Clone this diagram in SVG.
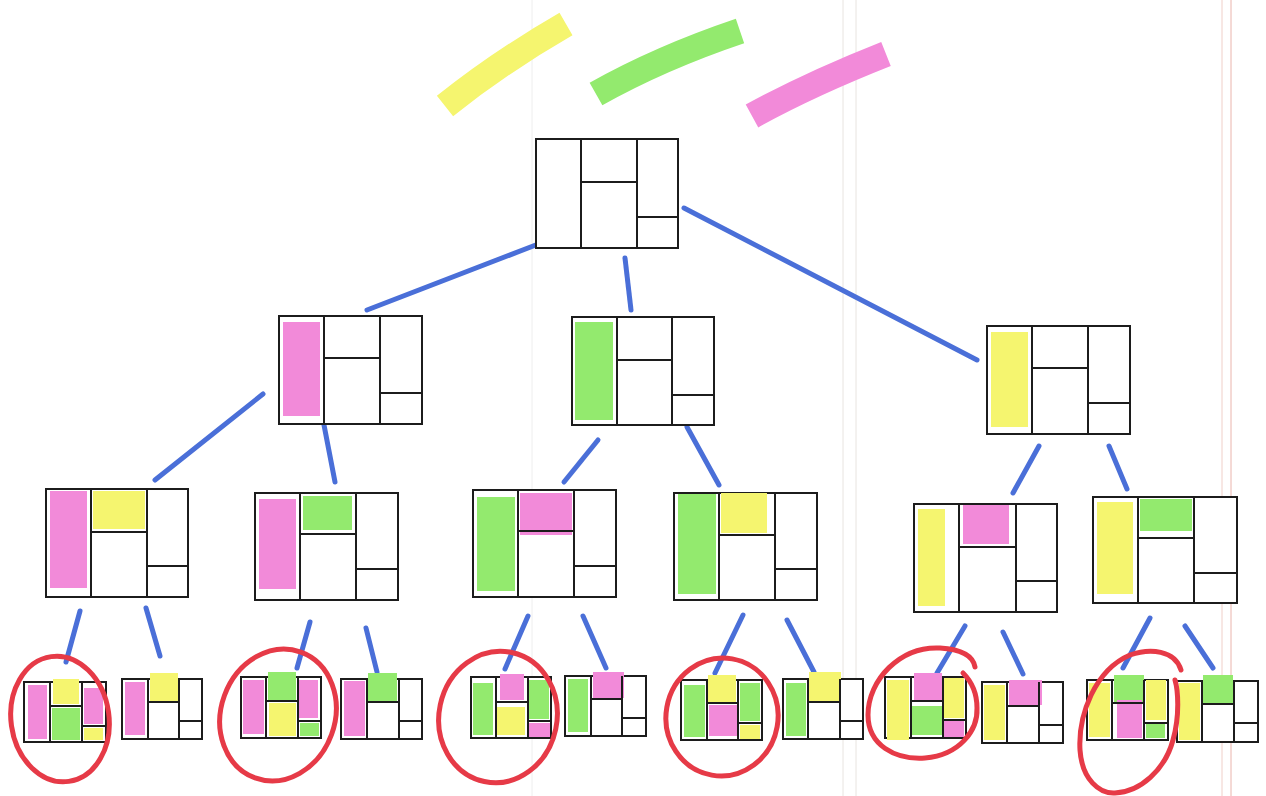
<svg xmlns="http://www.w3.org/2000/svg" width="1266" height="796" viewBox="0 0 1266 796">
<style>
.bx{fill:#fff;stroke:#1c1c1c;stroke-width:2}
.ln{fill:none;stroke:#1c1c1c;stroke-width:2}
.p{fill:#f28ad9}
.g{fill:#93ea6e}
.y{fill:#f5f56f}
.cn{stroke:#4a6fd8;stroke-width:5;stroke-linecap:round;fill:none}
.rc{fill:none;stroke:#e63a47;stroke-width:5;stroke-linecap:round}
.hs{fill:none;stroke-width:26;stroke-linecap:butt}
.pl{stroke-width:1;fill:none}
</style>
<rect width="1266" height="796" fill="#fff"/>
<g id="paper">
<line class="pl" x1="532" y1="0" x2="532" y2="796" stroke="#eeeeee"/>
<line class="pl" x1="843" y1="0" x2="843" y2="796" stroke="#e8e4e0"/>
<line class="pl" x1="856" y1="0" x2="856" y2="796" stroke="#e8e4e0"/>
<line class="pl" x1="1222" y1="0" x2="1222" y2="796" stroke="#f0cfc8"/>
<line class="pl" x1="1231" y1="0" x2="1231" y2="796" stroke="#eab4ac"/>
</g>
<g id="legend">
<path class="hs" stroke="#f5f56f" d="M445 106 Q500 62 566 24"/>
<path class="hs" stroke="#93ea6e" d="M596 94 Q660 58 740 31"/>
<path class="hs" stroke="#f28ad9" d="M752 116 Q810 84 886 54"/>
</g>
<g id="connectors">
<line class="cn" x1="541" y1="243" x2="367" y2="310"/>
<line class="cn" x1="625" y1="258" x2="631" y2="310"/>
<line class="cn" x1="684" y1="208" x2="977" y2="360"/>
<line class="cn" x1="263" y1="394" x2="155" y2="480"/>
<line class="cn" x1="324" y1="425" x2="335" y2="482"/>
<line class="cn" x1="598" y1="440" x2="564" y2="482"/>
<line class="cn" x1="687" y1="427" x2="719" y2="485"/>
<line class="cn" x1="1039" y1="446" x2="1013" y2="493"/>
<line class="cn" x1="1109" y1="446" x2="1127" y2="489"/>
<line class="cn" x1="80" y1="611" x2="66" y2="662"/>
<line class="cn" x1="146" y1="608" x2="160" y2="656"/>
<line class="cn" x1="310" y1="622" x2="297" y2="668"/>
<line class="cn" x1="366" y1="628" x2="377" y2="672"/>
<line class="cn" x1="528" y1="616" x2="505" y2="669"/>
<line class="cn" x1="583" y1="616" x2="606" y2="668"/>
<line class="cn" x1="743" y1="615" x2="715" y2="673"/>
<line class="cn" x1="787" y1="620" x2="814" y2="672"/>
<line class="cn" x1="965" y1="626" x2="937" y2="673"/>
<line class="cn" x1="1003" y1="632" x2="1023" y2="674"/>
<line class="cn" x1="1150" y1="618" x2="1123" y2="668"/>
<line class="cn" x1="1185" y1="626" x2="1213" y2="668"/>
</g>
<g id="root">
<rect class="bx" x="536" y="139" width="142" height="109"/>
<path class="ln" d="M581 139V248M637 139V248M581 182H637M637 217H678"/>
</g>
<g id="nA">
<rect class="bx" x="279" y="316" width="143" height="108"/>
<rect class="p" x="283" y="322" width="37" height="94"/>
<path class="ln" d="M324 316V424M380 316V424M324 358H380M380 393H422"/>
</g>
<g id="nB">
<rect class="bx" x="572" y="317" width="142" height="108"/>
<rect class="g" x="575" y="322" width="38" height="98"/>
<path class="ln" d="M617 317V425M672 317V425M617 360H672M672 395H714"/>
</g>
<g id="nC">
<rect class="bx" x="987" y="326" width="143" height="108"/>
<rect class="y" x="991" y="332" width="37" height="95"/>
<path class="ln" d="M1032 326V434M1088 326V434M1032 368H1088M1088 403H1130"/>
</g>
<g id="nA1">
<rect class="bx" x="46" y="489" width="142" height="108"/>
<rect class="p" x="50" y="491" width="37" height="97"/>
<rect class="y" x="93" y="491" width="52" height="38"/>
<path class="ln" d="M91 489V597M147 489V597M91 532H147M147 566H188"/>
</g>
<g id="nA2">
<rect class="bx" x="255" y="493" width="143" height="107"/>
<rect class="p" x="259" y="499" width="37" height="90"/>
<rect class="g" x="303" y="496" width="49" height="34"/>
<path class="ln" d="M300 493V600M356 493V600M300 534H356M356 569H398"/>
</g>
<g id="nB1">
<rect class="bx" x="473" y="490" width="143" height="107"/>
<rect class="g" x="477" y="497" width="38" height="94"/>
<rect class="p" x="520" y="493" width="52" height="42"/>
<path class="ln" d="M518 490V597M574 490V597M518 531H574M574 566H616"/>
</g>
<g id="nB2">
<rect class="bx" x="674" y="493" width="143" height="107"/>
<rect class="g" x="678" y="494" width="38" height="100"/>
<rect class="y" x="721" y="493" width="46" height="40"/>
<path class="ln" d="M719 493V600M775 493V600M719 535H775M775 569H817"/>
</g>
<g id="nC1">
<rect class="bx" x="914" y="504" width="143" height="108"/>
<rect class="y" x="918" y="509" width="27" height="97"/>
<rect class="p" x="963" y="505" width="46" height="39"/>
<path class="ln" d="M959 504V612M1016 504V612M959 547H1016M1016 581H1057"/>
</g>
<g id="nC2">
<rect class="bx" x="1093" y="497" width="144" height="106"/>
<rect class="y" x="1097" y="502" width="36" height="92"/>
<rect class="g" x="1140" y="499" width="52" height="32"/>
<path class="ln" d="M1138 497V603M1194 497V603M1138 538H1194M1194 573H1237"/>
</g>
<g id="L1">
<rect class="bx" x="24" y="682" width="82" height="60"/>
<rect class="p" x="28" y="685" width="19" height="54"/>
<rect class="y" x="53" y="679" width="26" height="25"/>
<rect class="g" x="52" y="708" width="28" height="32"/>
<rect class="p" x="84" y="688" width="19" height="36"/>
<rect class="y" x="84" y="728" width="19" height="12"/>
<path class="ln" d="M50 682V742M82 682V742M50 706H82M82 726H106"/>
</g>
<g id="L2">
<rect class="bx" x="122" y="679" width="80" height="60"/>
<rect class="p" x="125" y="682" width="20" height="53"/>
<rect class="y" x="150" y="673" width="28" height="28"/>
<path class="ln" d="M148 679V739M179 679V739M148 702H179M179 721H202"/>
</g>
<g id="L3">
<rect class="bx" x="241" y="677" width="80" height="61"/>
<rect class="p" x="243" y="680" width="21" height="54"/>
<rect class="g" x="268" y="672" width="28" height="28"/>
<rect class="y" x="269" y="703" width="27" height="33"/>
<rect class="p" x="299" y="680" width="19" height="38"/>
<rect class="g" x="300" y="723" width="19" height="13"/>
<path class="ln" d="M266 677V738M298 677V738M266 701H298M298 721H321"/>
</g>
<g id="L4">
<rect class="bx" x="341" y="679" width="81" height="60"/>
<rect class="p" x="344" y="681" width="21" height="55"/>
<rect class="g" x="368" y="673" width="29" height="28"/>
<path class="ln" d="M367 679V739M399 679V739M367 702H399M399 721H422"/>
</g>
<g id="L5">
<rect class="bx" x="471" y="677" width="80" height="61"/>
<rect class="g" x="473" y="683" width="20" height="52"/>
<rect class="p" x="500" y="674" width="24" height="26"/>
<rect class="y" x="497" y="707" width="28" height="28"/>
<rect class="g" x="529" y="680" width="20" height="39"/>
<rect class="p" x="529" y="723" width="21" height="14"/>
<path class="ln" d="M496 677V738M528 677V738M496 702H528M528 721H551"/>
</g>
<g id="L6">
<rect class="bx" x="565" y="676" width="81" height="60"/>
<rect class="g" x="568" y="679" width="20" height="53"/>
<rect class="p" x="593" y="672" width="31" height="26"/>
<path class="ln" d="M591 676V736M622 676V736M591 699H622M622 718H646"/>
</g>
<g id="L7">
<rect class="bx" x="681" y="680" width="81" height="60"/>
<rect class="g" x="684" y="685" width="21" height="52"/>
<rect class="y" x="708" y="675" width="28" height="27"/>
<rect class="p" x="709" y="705" width="28" height="31"/>
<rect class="g" x="740" y="683" width="20" height="38"/>
<rect class="y" x="740" y="725" width="20" height="14"/>
<path class="ln" d="M707 680V740M738 680V740M707 703H738M738 723H762"/>
</g>
<g id="L8">
<rect class="bx" x="783" y="679" width="80" height="60"/>
<rect class="g" x="786" y="683" width="20" height="53"/>
<rect class="y" x="809" y="672" width="32" height="30"/>
<path class="ln" d="M808 679V739M840 679V739M808 702H840M840 721H863"/>
</g>
<g id="L9">
<rect class="bx" x="885" y="677" width="81" height="61"/>
<rect class="y" x="887" y="680" width="22" height="60"/>
<rect class="p" x="914" y="673" width="28" height="27"/>
<rect class="g" x="912" y="706" width="30" height="29"/>
<rect class="y" x="944" y="678" width="20" height="40"/>
<rect class="p" x="944" y="720" width="20" height="17"/>
<path class="ln" d="M911 677V738M943 677V738M911 701H943M943 720H966"/>
</g>
<g id="L10">
<rect class="bx" x="982" y="682" width="81" height="61"/>
<rect class="y" x="984" y="685" width="21" height="55"/>
<rect class="p" x="1009" y="680" width="33" height="25"/>
<path class="ln" d="M1007 682V743M1039 682V743M1007 706H1039M1039 725H1063"/>
</g>
<g id="L11">
<rect class="bx" x="1087" y="680" width="81" height="60"/>
<rect class="y" x="1089" y="683" width="21" height="54"/>
<rect class="g" x="1114" y="675" width="30" height="27"/>
<rect class="p" x="1117" y="700" width="25" height="38"/>
<rect class="y" x="1146" y="680" width="20" height="40"/>
<rect class="g" x="1146" y="723" width="19" height="15"/>
<path class="ln" d="M1112 680V740M1144 680V740M1112 703H1144M1144 723H1168"/>
</g>
<g id="L12">
<rect class="bx" x="1177" y="681" width="81" height="61"/>
<rect class="y" x="1179" y="683" width="21" height="57"/>
<rect class="g" x="1203" y="675" width="30" height="28"/>
<path class="ln" d="M1202 681V742M1234 681V742M1202 704H1234M1234 723H1258"/>
</g>
<g id="circles">
<ellipse class="rc" cx="60" cy="719" rx="49" ry="63" transform="rotate(-8 60 719)"/>
<ellipse class="rc" cx="278" cy="715" rx="57" ry="67" transform="rotate(20 278 715)"/>
<ellipse class="rc" cx="498" cy="717" rx="59" ry="66" transform="rotate(12 498 717)"/>
<ellipse class="rc" cx="722" cy="717" rx="56" ry="59" transform="rotate(10 722 717)"/>
<path class="rc" d="M975 667 Q972 650 940 648 C900 646 868 680 868 715 C868 745 895 760 925 758 C960 755 978 730 977 708 C977 692 970 680 963 673"/>
<path class="rc" d="M1181 670 C1175 650 1150 648 1130 655 C1095 670 1078 715 1080 750 C1082 780 1100 794 1115 793 C1140 792 1165 770 1173 740 C1180 715 1178 690 1175 680"/>
</g>
</svg>
